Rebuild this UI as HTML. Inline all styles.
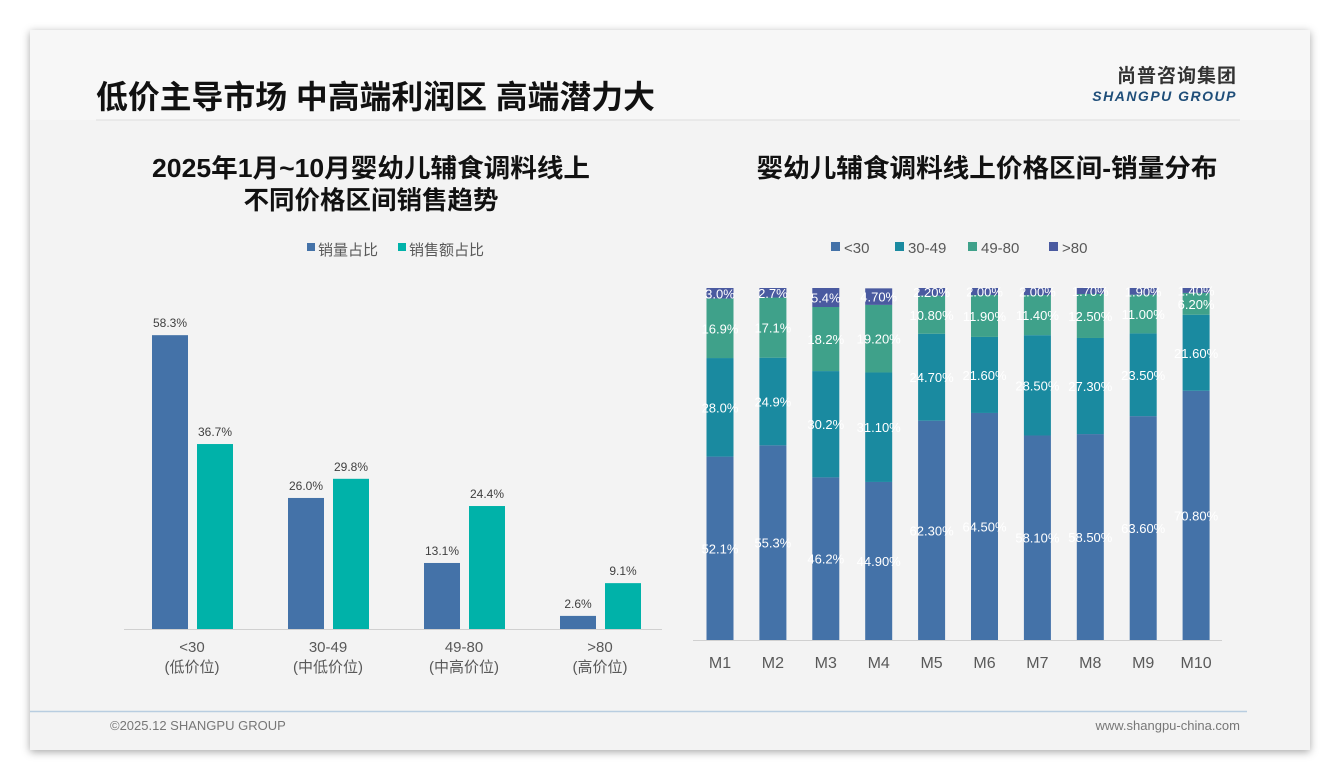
<!DOCTYPE html>
<html><head><meta charset="utf-8">
<style>
body{margin:0;width:1340px;height:780px;background:#fff;font-family:"Liberation Sans","Noto Sans CJK SC",sans-serif;overflow:hidden}
#slide{position:absolute;left:30px;top:30px;width:1280px;height:720px;background:#f3f3f3;box-shadow:0 2px 8px rgba(0,0,0,0.35)}
</style></head><body>
<div id="slide">
<svg width="1280" height="720" viewBox="30 30 1280 720" style="position:absolute;left:0;top:0">
<rect x="30" y="30" width="1280" height="90" fill="#f7f7f7"/>
<text x="96" y="108" font-size="32" font-weight="bold" fill="#111" textLength="559" lengthAdjust="spacingAndGlyphs">低价主导市场 中高端利润区 高端潜力大</text>
<line x1="96" y1="120" x2="1240" y2="120" stroke="#ddd" stroke-width="1"/>
<text x="1237" y="82" font-size="19" font-weight="bold" fill="#333" text-anchor="end" letter-spacing="1">尚普咨询集团</text>
<text x="1237" y="101" font-size="14" font-weight="bold" font-style="italic" fill="#1f4e79" text-anchor="end" letter-spacing="1.5">SHANGPU GROUP</text>

<text x="371" y="177" font-size="25.5" font-weight="bold" fill="#111" text-anchor="middle" textLength="438" lengthAdjust="spacingAndGlyphs">2025年1月~10月婴幼儿辅食调料线上</text>
<text x="371" y="209" font-size="25.5" font-weight="bold" fill="#111" text-anchor="middle">不同价格区间销售趋势</text>
<text x="987" y="177" font-size="25.5" font-weight="bold" fill="#111" text-anchor="middle" textLength="461" lengthAdjust="spacingAndGlyphs">婴幼儿辅食调料线上价格区间-销量分布</text>

<g id="left"></g>
<g id="right"></g>

<line x1="30" y1="711.5" x2="1247" y2="711.5" stroke="#b8cde0" stroke-width="1.5"/>
<text x="110" y="730" font-size="13" fill="#777">©2025.12 SHANGPU GROUP</text>
<text x="1240" y="730" font-size="13" fill="#777" text-anchor="end">www.shangpu-china.com</text>
</svg>
</div>
<script>
const leftCats=["<30","30-49","49-80",">80"];
const leftSub=["(低价位)","(中低价位)","(中高价位)","(高价位)"];
const volShare=[58.3,26.0,13.1,2.6];
const salesShare=[36.7,29.8,24.4,9.1];

const months=["M1","M2","M3","M4","M5","M6","M7","M8","M9","M10"];
const s30=[52.1,55.3,46.2,44.9,62.3,64.5,58.1,58.5,63.6,70.8];
const s3049=[28.0,24.9,30.2,31.1,24.7,21.6,28.5,27.3,23.5,21.6];
const s4980=[16.9,17.1,18.2,19.2,10.8,11.9,11.4,12.5,11.0,6.2];
const s80=[3.0,2.7,5.4,4.7,2.2,2.0,2.0,1.7,1.9,1.4];
const rightSeries=["<30","30-49","49-80",">80"];

const NS="http://www.w3.org/2000/svg";
function mk(tag,attrs,parent,txt){const e=document.createElementNS(NS,tag);for(const k in attrs)e.setAttribute(k,attrs[k]);if(txt!==undefined)e.textContent=txt;parent.appendChild(e);return e;}

// left chart
const L=document.getElementById('left');
const lBase=629,lScale=5.04,lX0=192,lStep=136;
const ly=v=>lBase-v*lScale;
const lx=i=>lX0+i*lStep;
let ax=mk('line',{x1:124,y1:lBase+0.5,x2:662,y2:lBase+0.5,stroke:'#d0d0d0'},L);


let lg=mk('rect',{x:307,y:243,width:8,height:8,fill:'#4472a8'},L);


let lt=mk('text',{x:318,y:255,'font-size':15,fill:'#595959'},L,'销量占比');


lg=mk('rect',{x:398,y:243,width:8,height:8,fill:'#00b2a9'},L);


lt=mk('text',{x:409,y:255,'font-size':15,fill:'#595959'},L,'销售额占比');


leftCats.forEach((c,i)=>{
  const cx=lx(i);
  let b=mk('rect',{x:cx-40,y:ly(volShare[i]),width:36,height:volShare[i]*lScale,fill:'#4472a8'},L);
  
  
  let t=mk('text',{x:cx-22,y:ly(volShare[i])-8,'font-size':12,fill:'#404040','text-anchor':'middle'},L,volShare[i].toFixed(1)+'%');
  
  
  b=mk('rect',{x:cx+5,y:ly(salesShare[i]),width:36,height:salesShare[i]*lScale,fill:'#00b2a9'},L);
  
  
  t=mk('text',{x:cx+23,y:ly(salesShare[i])-8,'font-size':12,fill:'#404040','text-anchor':'middle'},L,salesShare[i].toFixed(1)+'%');
  
  
  t=mk('text',{x:cx,y:652,'font-size':15,fill:'#595959','text-anchor':'middle'},L,c);
  
  
  t=mk('text',{x:cx,y:672,'font-size':15,fill:'#595959','text-anchor':'middle'},L,leftSub[i]);
  
  
});

// right chart
const R=document.getElementById('right');
const rBase=640,rScale=3.52,rX0=720,rStep=52.9,bw=27;
const rx=i=>rX0+i*rStep;
ax=mk('line',{x1:693,y1:rBase+0.5,x2:1222,y2:rBase+0.5,stroke:'#d0d0d0'},R);


const cols=['#4472a8','#1a8aa0','#3fa18a','#4a5aa0'];
const series=[s30,s3049,s4980,s80];
const lgx=[831,895,968,1049];
rightSeries.forEach((n,k)=>{
  let r=mk('rect',{x:lgx[k],y:242,width:9,height:9,fill:cols[k]},R);
  
  
  let t=mk('text',{x:lgx[k]+13,y:253,'font-size':15,fill:'#595959'},R,n);
  
  
});
months.forEach((m,i)=>{
  let acc=0;
  const cx=rx(i);
  series.forEach((s,k)=>{
    const v=s[i];
    const y1=rBase-(acc+v)*rScale;
    let b=mk('rect',{x:cx-bw/2,y:y1,width:bw,height:v*rScale,fill:cols[k]},R);
    
    
    const lbl=i<3?v.toFixed(1)+'%':v.toFixed(2)+'%';
    let t=mk('text',{x:cx,y:y1+v*rScale/2+5,'font-size':13,fill:'#fff','text-anchor':'middle'},R,lbl);
    
    
    acc+=v;
  });
  let t=mk('text',{x:cx,y:668,'font-size':16,fill:'#595959','text-anchor':'middle'},R,m);
  
  
});
</script>
</body></html>
